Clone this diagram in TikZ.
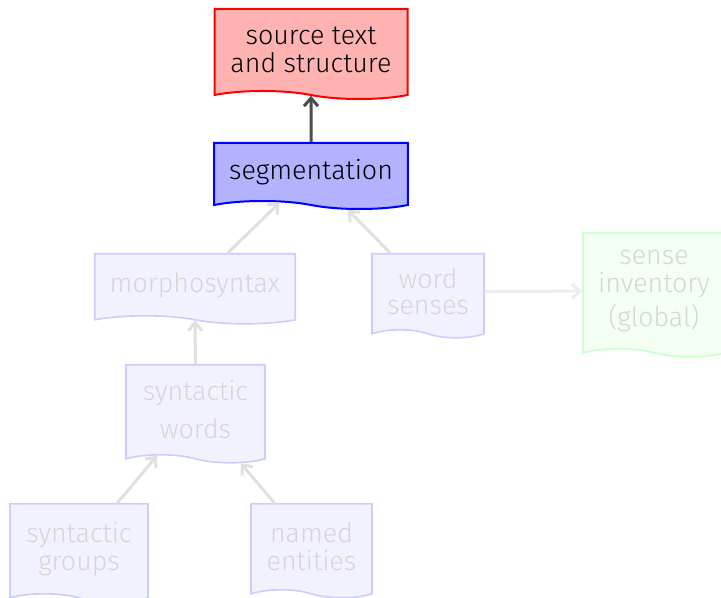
\documentclass[tikz,border=0pt]{standalone}
\usepackage{fontspec}
\setmainfont{Fira Sans Light}
\usetikzlibrary{shapes.symbols, arrows.meta, positioning}
\definecolor{faintText}{RGB}{214,214,214}
\tikzset{
	doc/.style={
		tape,
		tape bend top=none,
		tape bend bottom=out and in,
		tape bend height=4pt,
		draw,
		line width=1pt,
		align=center,
		inner xsep=7.5pt,
		anchor=north,
	},
	active/.style={doc, line width=1pt},
	faded/.style={doc, draw=blue!20, fill=blue!5, text=faintText, line width=0.8pt},
	flow/.style={
		-{Straight Barb[length=4pt,width=7pt]},
		line width=1.5pt,
		draw=black!70,
	},
	fadedflow/.style={flow, draw=black!12},
}

\begin{document}
\begin{tikzpicture}[x=0.5pt, y=-0.5pt,
		every node/.style={font=\fontsize{13.4}{14}\selectfont}]
	\useasboundingbox (0,0) rectangle (721,598);
	% --- top ---
	\node[active, draw=red, fill=red!30, minimum width=96.5pt, minimum height=45pt] (source) at (311,8) {source text\\and structure};
	\node[active, draw=blue, fill=blue!30, minimum width=96.5pt, minimum height=33pt] (segm) at (311,142) {segmentation};

	% --- middle row ---
	\node[faded, minimum width=99pt, minimum height=35pt] (morph) at (195,253) {morphosyntax};
	\node[faded, minimum width=56pt, minimum height=42pt] (wsenses) at (428,253) {word\\[-1pt]senses};
	\node[faded, draw=green!20, fill=green!5, minimum width=71pt, minimum height=62pt] (inventory) at (654,232) {sense\\inventory\\[3pt](global)};

	% --- lower rows ---
	\node[faded, minimum width=69.5pt, minimum height=49pt] (swords) at (195.5,364) {syntactic\\[5pt]words};
	\node[faded, minimum width=69pt, minimum height=49pt] (sgroups) at (79,503) {syntactic\\groups};
	\node[faded, minimum width=60.5pt, minimum height=47pt] (entities) at (311.5,503) {named\\entities};

	% --- flows ---
	\draw[flow] (segm) -- (source);
	\draw[fadedflow] (morph) -- (segm);
	\draw[fadedflow] (wsenses) -- (segm);
	\draw[fadedflow, draw=black!7] (wsenses) -- (inventory);
	\draw[fadedflow] (swords) -- (morph);
	\draw[fadedflow] (sgroups) -- (swords);
	\draw[fadedflow] (entities) -- (swords);
\end{tikzpicture}
\end{document}
